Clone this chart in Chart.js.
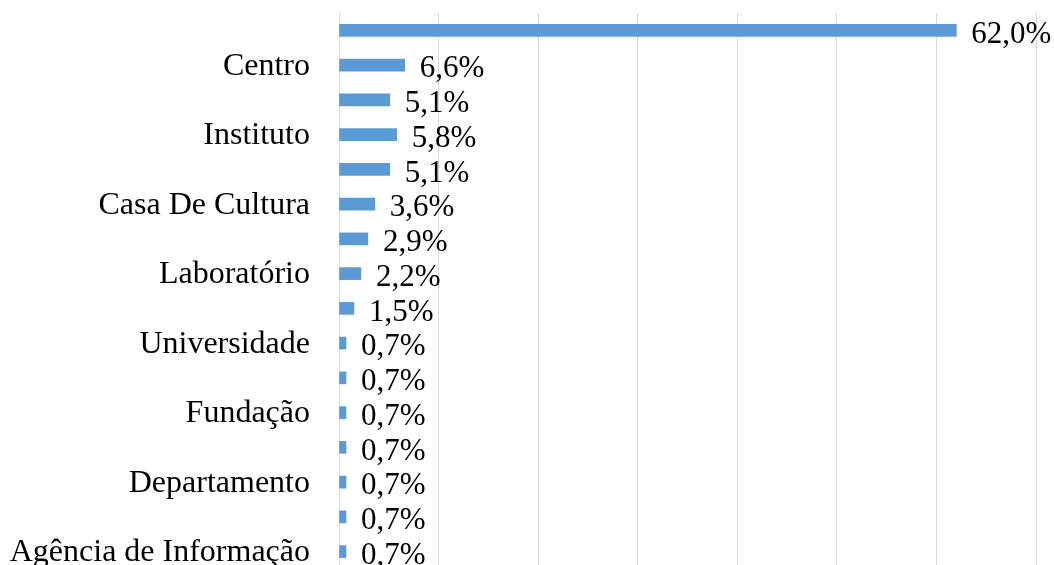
<!DOCTYPE html>
<html>
<head>
<meta charset="utf-8">
<script src="https://cdn.jsdelivr.net/npm/chart.js"></script>
<style>
  html, body { margin: 0; padding: 0; background: #fff; overflow: hidden; }
  #wrap { width: 1054px; height: 569px; position: relative; }
</style>
</head>
<body>
<div id="wrap"><canvas id="chart"></canvas></div>
<script>
// categorias (as linhas sem rótulo não aparecem no gráfico original)
const categorias = ['', 'Centro', '', 'Instituto', '', 'Casa De Cultura', '', 'Laboratório',
  '', 'Universidade', '', 'Fundação', '', 'Departamento', '', 'Agência de Informação'];
const percentuais = [62.0, 6.6, 5.1, 5.8, 5.1, 3.6, 2.9, 2.2, 1.5, 0.7, 0.7, 0.7, 0.7, 0.7, 0.7, 0.7];
const eixoMax = 70;
const eixoPasso = 10;

const fonte = 'Liberation Serif, Times New Roman, serif';

// rótulos de valor à direita de cada barra
const rotulos = {
  id: 'rotulos',
  afterDatasetsDraw(chart) {
    const ctx = chart.ctx;
    const meta = chart.getDatasetMeta(0);
    ctx.save();
    ctx.font = '31px ' + fonte;
    ctx.fillStyle = '#000';
    ctx.textAlign = 'left';
    ctx.textBaseline = 'middle';
    meta.data.forEach((bar, i) => {
      const txt = percentuais[i].toFixed(1).replace('.', ',') + '%';
      ctx.fillText(txt, bar.x + 15, bar.y + 4);
    });
    ctx.restore();
  }
};

function semPadding(scale) {
  scale.paddingTop = 0;
  scale.paddingBottom = 0;
  scale.paddingLeft = 0;
  scale.paddingRight = 0;
}

new Chart(document.getElementById('chart'), {
  type: 'bar',
  data: {
    labels: categorias,
    datasets: [{
      data: percentuais,
      backgroundColor: '#5b9bd5',
      barThickness: 12
    }]
  },
  options: {
    indexAxis: 'y',
    responsive: true,
    maintainAspectRatio: false,
    animation: false,
    layout: { padding: { top: 13, right: 18, bottom: 0, left: 0 } },
    plugins: {
      legend: { display: false },
      tooltip: { enabled: false }
    },
    scales: {
      x: {
        min: 0,
        max: eixoMax,
        ticks: { display: false, stepSize: eixoPasso },
        grid: { color: '#d9d9d9', lineWidth: 1, drawTicks: false },
        border: { display: false },
        afterFit(scale) { semPadding(scale); scale.height = 0; }
      },
      y: {
        ticks: {
          autoSkip: false,
          color: '#000',
          padding: 29,
          labelOffset: 1,
          font: { family: fonte, size: 32 }
        },
        grid: { display: false, drawTicks: false },
        border: { display: true, color: '#d9d9d9' },
        afterFit(scale) { semPadding(scale); scale.width = 339; }
      }
    }
  },
  plugins: [rotulos]
});
</script>
</body>
</html>
